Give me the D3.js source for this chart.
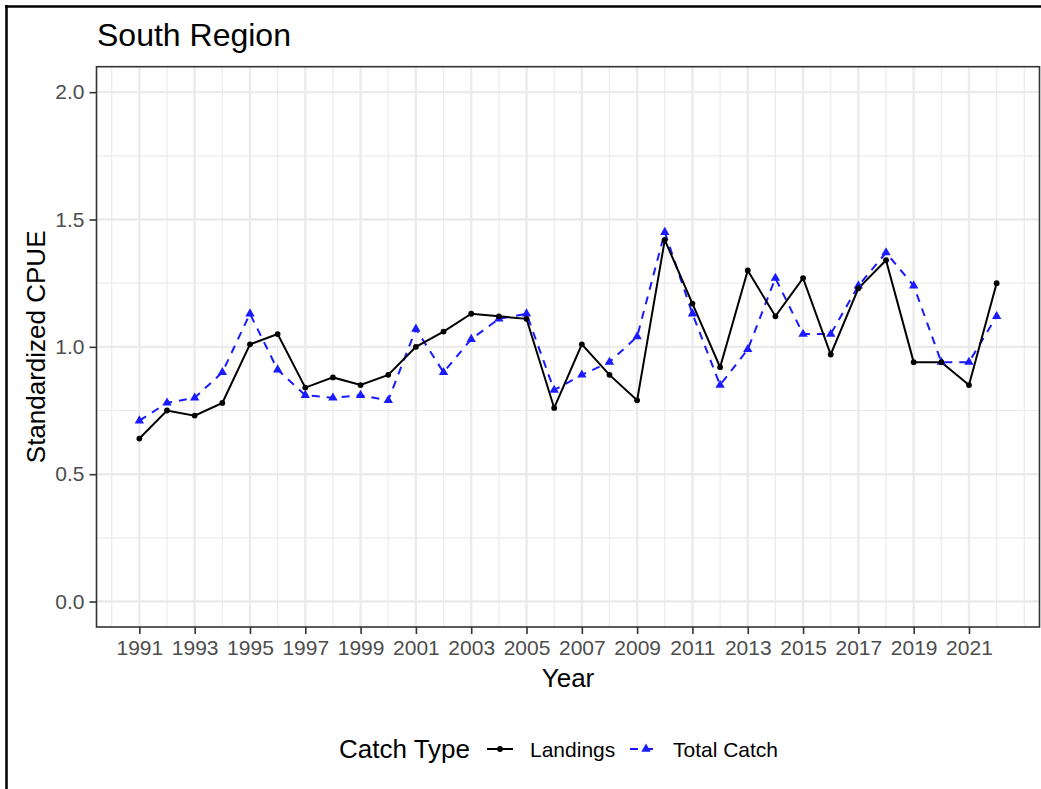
<!DOCTYPE html>
<meta charset="utf-8">
<style>
body { margin: 0; background: #fff; }
svg { font-family: "Liberation Sans", Arial, sans-serif; }
.tick text { fill: #4d4d4d; font-size: 21px; }
.tick line { stroke: #333; stroke-width: 1.6px; }
</style>
<svg width="1041" height="789"></svg>
<script src="https://d3js.org/d3.v7.min.js"></script>
<script>

var years = [1991, 1992, 1993, 1994, 1995, 1996, 1997, 1998, 1999, 2000,
             2001, 2002, 2003, 2004, 2005, 2006, 2007, 2008, 2009, 2010,
             2011, 2012, 2013, 2014, 2015, 2016, 2017, 2018, 2019, 2020,
             2021, 2022];

var landings = [0.64, 0.75, 0.73, 0.78, 1.01, 1.05, 0.84, 0.88, 0.85, 0.89,
                1.00, 1.06, 1.13, 1.12, 1.11, 0.76, 1.01, 0.89, 0.79, 1.42,
                1.17, 0.92, 1.30, 1.12, 1.27, 0.97, 1.23, 1.34, 0.94, 0.94,
                0.85, 1.25];

var totalCatch = [0.71, 0.78, 0.80, 0.90, 1.13, 0.91, 0.81, 0.80, 0.81, 0.79,
                  1.07, 0.90, 1.03, 1.11, 1.13, 0.83, 0.89, 0.94, 1.04, 1.45,
                  1.13, 0.85, 0.99, 1.27, 1.05, 1.05, 1.24, 1.37, 1.24, 0.94,
                  0.94, 1.12];

var xTicks = [1991, 1993, 1995, 1997, 1999, 2001, 2003, 2005, 2007, 2009,
              2011, 2013, 2015, 2017, 2019, 2021];
var xMinor = [1990, 1992, 1994, 1996, 1998, 2000, 2002, 2004, 2006, 2008,
              2010, 2012, 2014, 2016, 2018, 2020, 2022, 2023];
var yTicks = [0, 0.5, 1, 1.5, 2];
var yMinor = [0.25, 0.75, 1.25, 1.75];

var svg = d3.select("svg");

var pLeft = 96.5, pRight = 1039.5, pTop = 66.7, pBottom = 627;

var x = d3.scaleLinear().domain([1989.45, 2023.55]).range([pLeft, pRight]);
var y = d3.scaleLinear().domain([-0.1, 2.1]).range([pBottom, pTop]);

// outer frame (left and top only visible)
svg.append("line").attr("x1", 6.5).attr("x2", 6.5).attr("y1", 5).attr("y2", 789)
    .attr("stroke", "#000").attr("stroke-width", 2.5);
svg.append("line").attr("x1", 5).attr("x2", 1041).attr("y1", 6.5).attr("y2", 6.5)
    .attr("stroke", "#000").attr("stroke-width", 2.5);

// grid
var grid = svg.append("g");
grid.selectAll(".vminor").data(xMinor).enter().append("line")
    .attr("x1", x).attr("x2", x).attr("y1", pTop).attr("y2", pBottom)
    .attr("stroke", "#ebebeb").attr("stroke-width", 1.2);
grid.selectAll(".hminor").data(yMinor).enter().append("line")
    .attr("x1", pLeft).attr("x2", pRight).attr("y1", y).attr("y2", y)
    .attr("stroke", "#ebebeb").attr("stroke-width", 1.2);
grid.selectAll(".vmajor").data(xTicks).enter().append("line")
    .attr("x1", x).attr("x2", x).attr("y1", pTop).attr("y2", pBottom)
    .attr("stroke", "#ebebeb").attr("stroke-width", 2.4);
grid.selectAll(".hmajor").data(yTicks).enter().append("line")
    .attr("x1", pLeft).attr("x2", pRight).attr("y1", y).attr("y2", y)
    .attr("stroke", "#ebebeb").attr("stroke-width", 2.4);

// data
var tc = years.map(function(d, i) { return [d, totalCatch[i]]; });
var ld = years.map(function(d, i) { return [d, landings[i]]; });

var line = d3.line()
    .x(function(d) { return x(d[0]); })
    .y(function(d) { return y(d[1]); });

svg.append("path").datum(tc)
    .attr("d", line).attr("fill", "none")
    .attr("stroke", "#1a1aff").attr("stroke-width", 2)
    .attr("stroke-dasharray", "8,7");

svg.append("path").datum(ld)
    .attr("d", line).attr("fill", "none")
    .attr("stroke", "#000").attr("stroke-width", 2);

var tri = d3.symbol().type(d3.symbolTriangle).size(38);

svg.selectAll(".tri").data(tc).enter().append("path")
    .attr("d", tri)
    .attr("transform", function(d) { return "translate(" + x(d[0]) + "," + y(d[1]) + ")"; })
    .attr("fill", "#1a1aff");

svg.selectAll(".dot").data(ld).enter().append("circle")
    .attr("cx", function(d) { return x(d[0]); })
    .attr("cy", function(d) { return y(d[1]); })
    .attr("r", 2.9)
    .attr("fill", "#000");

// panel border
svg.append("rect")
    .attr("x", pLeft).attr("y", pTop)
    .attr("width", pRight - pLeft).attr("height", pBottom - pTop)
    .attr("fill", "none").attr("stroke", "#333").attr("stroke-width", 1.6);

// axes
var xAxis = svg.append("g")
    .attr("transform", "translate(0," + pBottom + ")")
    .call(d3.axisBottom(x).tickValues(xTicks).tickFormat(d3.format("d"))
      .tickSize(7).tickSizeOuter(0).tickPadding(6));
xAxis.select(".domain").remove();

var yAxis = svg.append("g")
    .attr("transform", "translate(" + pLeft + ",0)")
    .call(d3.axisLeft(y).tickValues(yTicks).tickFormat(d3.format(".1f"))
      .tickSize(7).tickSizeOuter(0).tickPadding(5));
yAxis.select(".domain").remove();

// titles
svg.append("text")
    .attr("x", 97).attr("y", 46)
    .attr("font-size", 32).attr("fill", "#000")
    .text("South Region");

svg.append("text")
    .attr("x", (pLeft + pRight) / 2).attr("y", 687)
    .attr("text-anchor", "middle")
    .attr("font-size", 26).attr("fill", "#000")
    .text("Year");

svg.append("text")
    .attr("transform", "translate(45," + (pTop + pBottom) / 2 + ") rotate(-90)")
    .attr("text-anchor", "middle")
    .attr("font-size", 26).attr("fill", "#000")
    .text("Standardized CPUE");

// legend
var leg = svg.append("g");
leg.append("text")
    .attr("x", 339).attr("y", 758)
    .attr("font-size", 26).attr("fill", "#000")
    .text("Catch Type");

leg.append("line")
    .attr("x1", 487).attr("x2", 513).attr("y1", 749).attr("y2", 749)
    .attr("stroke", "#000").attr("stroke-width", 2);
leg.append("circle")
    .attr("cx", 500).attr("cy", 749).attr("r", 2.9).attr("fill", "#000");
leg.append("text")
    .attr("x", 530).attr("y", 757)
    .attr("font-size", 21).attr("fill", "#000")
    .text("Landings");

leg.append("line")
    .attr("x1", 630).attr("x2", 656).attr("y1", 749).attr("y2", 749)
    .attr("stroke", "#1a1aff").attr("stroke-width", 2)
    .attr("stroke-dasharray", "8,7");
leg.append("path")
    .attr("d", tri)
    .attr("transform", "translate(646,749)")
    .attr("fill", "#1a1aff");
leg.append("text")
    .attr("x", 673).attr("y", 757)
    .attr("font-size", 21).attr("fill", "#000")
    .text("Total Catch");

</script>
